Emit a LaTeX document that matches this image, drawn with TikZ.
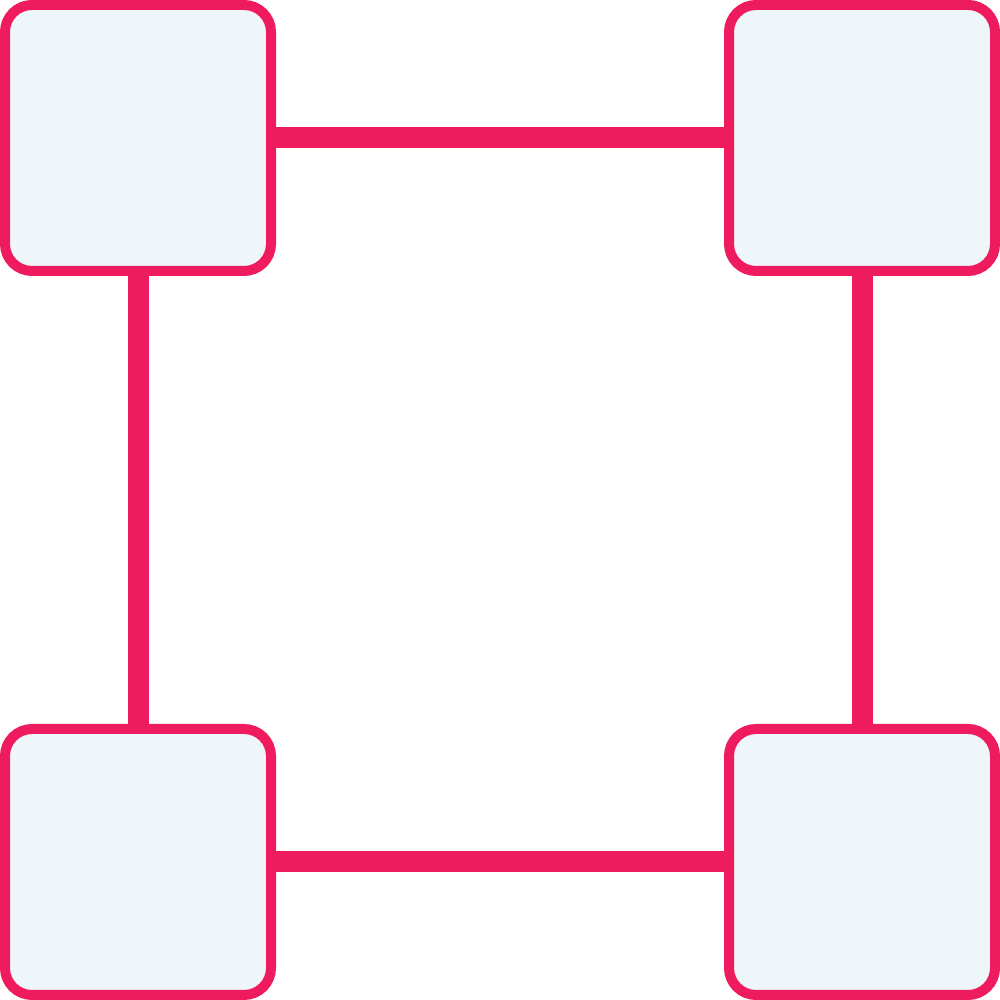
\documentclass[tikz,border=0pt]{standalone}
\definecolor{edgepink}{HTML}{EE1C5E}
\definecolor{boxfill}{HTML}{EEF6FA}
\begin{document}
\begin{tikzpicture}[
  cornerbox/.style={draw=edgepink, fill=boxfill, line width=1mm, rounded corners=2.7mm,
    minimum width=2.66cm, minimum height=2.66cm, inner sep=0pt, outer sep=0pt},
  link/.style={draw=edgepink, line width=2.1mm}
]
\useasboundingbox (0,0) rectangle (10,10);
\node[cornerbox] (tl) at (1.38,8.62) {};
\node[cornerbox] (tr) at (8.62,8.62) {};
\node[cornerbox] (bl) at (1.38,1.38) {};
\node[cornerbox] (br) at (8.62,1.38) {};
\draw[link] (tl.east) -- (tr.west);
\draw[link] (bl.east) -- (br.west);
\draw[link] (tl.south) -- (bl.north);
\draw[link] (tr.south) -- (br.north);
\end{tikzpicture}
\end{document}
